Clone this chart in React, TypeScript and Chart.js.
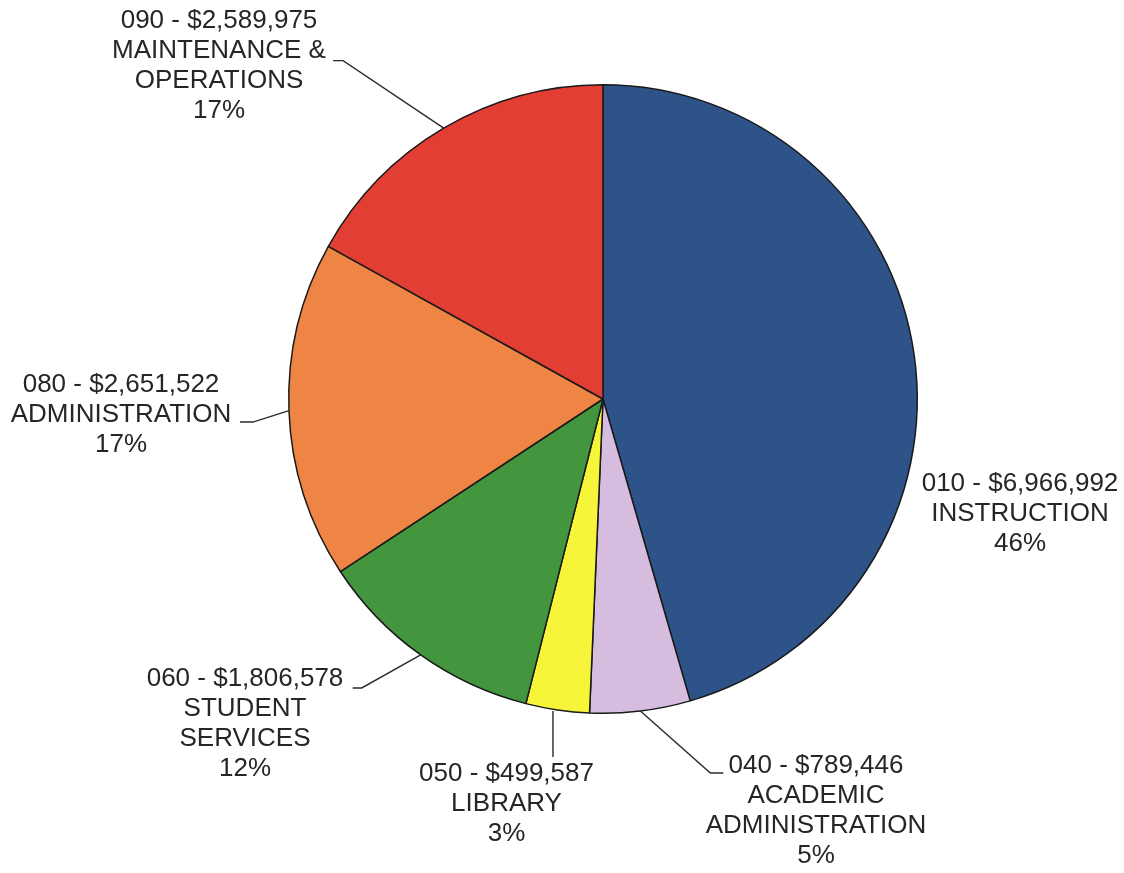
import React, { useEffect, useRef } from "react";
import { Chart, registerables } from "chart.js";

Chart.register(...registerables);

// ---- data ----
const codes = ["010", "040", "050", "060", "080", "090"];
const amounts = [6966992, 789446, 499587, 1806578, 2651522, 2589975];
const names = [
  ["INSTRUCTION"],
  ["ACADEMIC", "ADMINISTRATION"],
  ["LIBRARY"],
  ["STUDENT", "SERVICES"],
  ["ADMINISTRATION"],
  ["MAINTENANCE &", "OPERATIONS"],
];
const percents = ["46%", "5%", "3%", "12%", "17%", "17%"];

// ---- styles ----
const colors = ["#2e5388", "#d6bde0", "#f7f53a", "#43953e", "#ef8544", "#e33e34"];
// label block: first-line centre offset from pie centre
const labelOffsets: [number, number][] = [
  [417, 85],
  [213, 367],
  [-96.5, 374.5],
  [-358, 280],
  [-482, -14],
  [-384, -378.5],
];
// leader start/elbow/end relative to the slice's outer edge mid point
const leaders: ({ start?: [number, number]; elbow: [number, number]; end: [number, number] | null } | null)[] = [
  null,
  { elbow: [70, 62], end: [83, 62] },
  { start: [-4.5, 1], elbow: [-4.5, 47], end: null },
  { elbow: [-59, 33], end: [-68, 33] },
  { elbow: [-36, 11.5], end: [-49, 11.5] },
  { elbow: [-100.6, -67.5], end: [-110.6, -67.5] },
];
const FONT = '26px "Liberation Sans", Arial, sans-serif';
const LINE_H = 30;

function fmt(n: number) {
  return "$" + n.toLocaleString("en-US");
}

const labelPlugin = {
  id: "pieLabels",
  afterDraw(chart: any) {
    const ctx = chart.ctx;
    const meta = chart.getDatasetMeta(0);
    ctx.save();
    meta.data.forEach((arc: any, i: number) => {
      const { x, y, startAngle, endAngle, outerRadius } = arc.getProps(
        ["x", "y", "startAngle", "endAngle", "outerRadius"],
        true
      );
      const mid = (startAngle + endAngle) / 2;
      const ex = x + Math.cos(mid) * outerRadius;
      const ey = y + Math.sin(mid) * outerRadius;
      const ld = leaders[i];
      if (ld) {
        const s = ld.start || [0, 0];
        ctx.beginPath();
        ctx.strokeStyle = "#2a2a2a";
        ctx.lineWidth = 1.4;
        ctx.moveTo(ex + s[0], ey + s[1]);
        ctx.lineTo(ex + ld.elbow[0], ey + ld.elbow[1]);
        if (ld.end) ctx.lineTo(ex + ld.end[0], ey + ld.end[1]);
        ctx.stroke();
      }
      const lines = [codes[i] + " - " + fmt(amounts[i]), ...names[i], percents[i]];
      ctx.font = FONT;
      ctx.fillStyle = "#262626";
      ctx.textAlign = "center";
      ctx.textBaseline = "middle";
      const tx = x + labelOffsets[i][0];
      const ty = y + labelOffsets[i][1];
      lines.forEach((t, k) => ctx.fillText(t, tx, ty + k * LINE_H));
    });
    ctx.restore();
  },
};

export default function App() {
  const ref = useRef<HTMLCanvasElement>(null);
  useEffect(() => {
    if (!ref.current) return;
    const chart = new Chart(ref.current, {
      type: "pie",
      data: {
        labels: codes,
        datasets: [
          {
            data: amounts,
            backgroundColor: colors,
            borderColor: "#1a1a1a",
            borderWidth: 1.5,
            hoverBorderWidth: 1.5,
          },
        ],
      },
      options: {
        responsive: false,
        animation: false,
        events: [],
        layout: { padding: { top: 84, bottom: 159, left: 200, right: 118 } },
        plugins: {
          legend: { display: false },
          tooltip: { enabled: false },
        },
      },
      plugins: [labelPlugin],
    });
    return () => chart.destroy();
  }, []);
  return (
    <div style={{ position: "fixed", left: 0, top: 0, width: 1124, height: 873, background: "#fff" }}>
      <canvas ref={ref} width={1124} height={873} style={{ width: 1124, height: 873 }} />
    </div>
  );
}
